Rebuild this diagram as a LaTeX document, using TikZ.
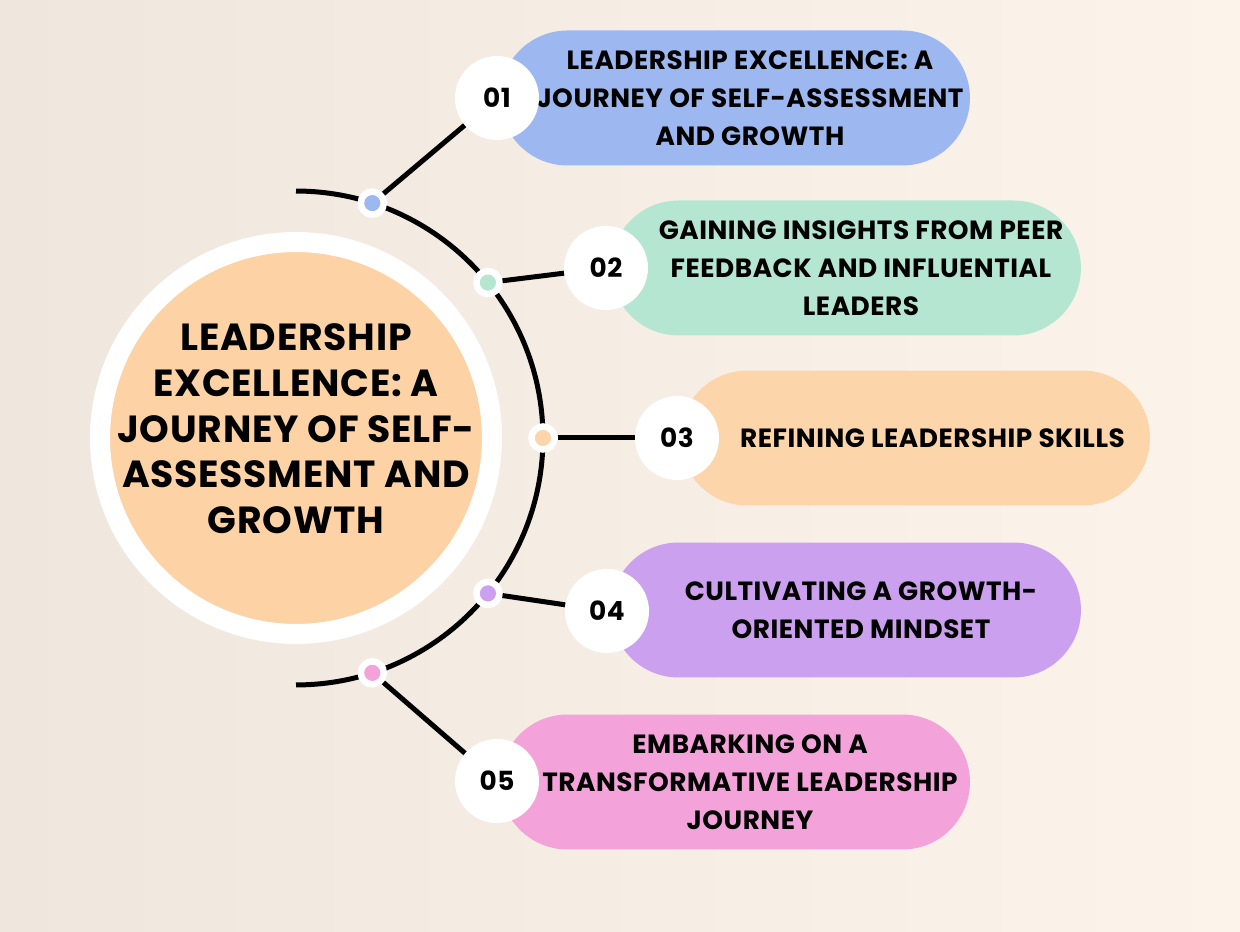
\documentclass[tikz,border=0pt]{standalone}
\usepackage{fontspec}
\setmainfont{Poppins}[LetterSpace=2]
\usetikzlibrary{positioning}
\definecolor{bgleft}{HTML}{EFE7DE}
\definecolor{bgright}{HTML}{FCF3EA}
\definecolor{hubfill}{HTML}{FDD2A5}
\definecolor{cblue}{HTML}{9DB8F0}
\definecolor{cgreen}{HTML}{B5E6D2}
\definecolor{corange}{HTML}{FDD5AA}
\definecolor{cpurple}{HTML}{CBA0EE}
\definecolor{cpink}{HTML}{F4A3DA}

\begin{document}
\begin{tikzpicture}[x=0.02cm,y=0.02cm,font=\bfseries,
  pill/.style={rounded corners=1.35cm, minimum width=9.4cm, minimum height=2.7cm},
  pilltext/.style={align=center, font=\bfseries\fontsize{15}{21.6}\selectfont},
  numdisc/.style={circle, fill=white, minimum size=1.68cm, inner sep=0pt, font=\bfseries\fontsize{15}{18}\selectfont},
  hubdot/.style={circle, draw=white, line width=0.13cm, minimum size=0.46cm, inner sep=0pt},
  link/.style={line width=0.1cm}]
\shade[left color=bgleft, right color=bgright] (0,0) rectangle (1240,932);
\useasboundingbox (0,0) rectangle (1240,932);

% centre disc and arc
\node[circle, fill=hubfill, draw=white, line width=0.4cm, minimum size=7.84cm, inner sep=0pt] (hub) at (296,494) {};
\node[align=center, font=\bfseries\fontsize{21.5}{26}\selectfont] (hubtext) at ([yshift=0.18cm]hub.center)
  {LEADERSHIP\\EXCELLENCE: A\\JOURNEY OF SELF-\\ASSESSMENT AND\\GROWTH};
\draw[link] (hub.center) ++(90:4.94cm) arc (90:-90:4.94cm);

% pills
\node[pill, fill=cblue] (p1) at (735,834) {};
\node[pill, fill=cgreen] (p2) at (846,664) {};
\node[pill, fill=corange] (p3) at (915,494) {};
\node[pill, fill=cpurple] (p4) at (846,322) {};
\node[pill, fill=cpink] (p5) at (735,150) {};

\node[pilltext] (t1) at ([xshift=0.3cm]p1.center) {LEADERSHIP EXCELLENCE: A\\JOURNEY OF SELF-ASSESSMENT\\AND GROWTH};
\node[pilltext] (t2) at ([xshift=0.3cm]p2.center) {GAINING INSIGHTS FROM PEER\\FEEDBACK AND INFLUENTIAL\\LEADERS};
\node[pilltext] (t3) at ([xshift=0.35cm]p3.center) {REFINING LEADERSHIP SKILLS};
\node[pilltext] (t4) at ([xshift=0.3cm]p4.center) {CULTIVATING A GROWTH-\\ORIENTED MINDSET};
\node[pilltext] (t5) at ([xshift=0.3cm]p5.center) {EMBARKING ON A\\TRANSFORMATIVE LEADERSHIP\\JOURNEY};

% number discs
\node[numdisc] (n1) at (497,834) {01};
\node[numdisc] (n2) at (606,664) {02};
\node[numdisc] (n3) at (677,494) {03};
\node[numdisc] (n4) at (607,321) {04};
\node[numdisc] (n5) at (497,151) {05};

% dots on the arc
\node[hubdot, fill=cblue] (d1) at ([shift={(72:4.94cm)}]hub.center) {};
\node[hubdot, fill=cgreen] (d2) at ([shift={(39:4.94cm)}]hub.center) {};
\node[hubdot, fill=corange] (d3) at ([shift={(0:4.94cm)}]hub.center) {};
\node[hubdot, fill=cpurple] (d4) at ([shift={(-39:4.94cm)}]hub.center) {};
\node[hubdot, fill=cpink] (d5) at ([shift={(-72:4.94cm)}]hub.center) {};

\draw[link] (d1) -- (n1);
\draw[link] (d2) -- (n2);
\draw[link] (d3) -- (n3);
\draw[link] (d4) -- (n4);
\draw[link] (d5) -- (n5);
\end{tikzpicture}
\end{document}
